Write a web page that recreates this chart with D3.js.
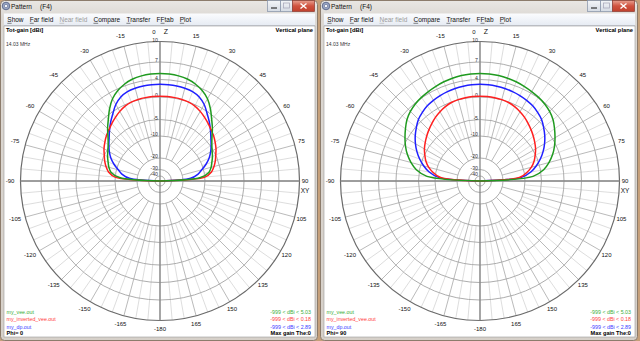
<!DOCTYPE html>
<html><head><meta charset="utf-8">
<script src="https://cdn.jsdelivr.net/npm/d3@7"></script>
<style>html,body{margin:0;padding:0;background:#c6a07a;overflow:hidden}</style>
</head><body><svg id="c" width="640" height="341" xmlns="http://www.w3.org/2000/svg"></svg>
<script>
// ---------- data ----------
const thetas = [-90,-85,-80,-75,-70,-65,-60,-55,-50,-45,-40,-35,-30,-25,-20,-15,-10,-5,0,5,10,15,20,25,30,35,40,45,50,55,60,65,70,75,80,85,90];
const dbTicks = [10,7,4,0,-5,-10,-20,-30,-40];
const dbTickLabels = ["10","7","4","0","-5","-10","-20","-30","-40"];
const angleTicks = [-165,-150,-135,-120,-105,-75,-60,-45,-30,-15,15,30,45,60,75,105,120,135,150,165];
const angleTickLabels = ["-165","-150","-135","-120","-105","-75","-60","-45","-30","-15","15","30","45","60","75","105","120","135","150","165"];
const menuItems = ["Show","Far field","Near field","Compare","Transfer","FFtab","Plot"];
const files = ["my_vee.out","my_inverted_vee.out","my_dp.out"];
const maxGains = [5.03,0.18,2.89];
const phiValues = [0,90];

// Phi = 0 plane (dBi vs theta)
const veePhi0 = [-999,-12,-8.6,-7.6,-6.9,-6.1,-5.4,-4.6,-3.6,-2.2,-0.8,0.9,2.5,3.6,4.3,4.7,4.9,5.0,5.03,5.0,4.9,4.7,4.3,3.6,2.5,0.9,-0.8,-2.2,-3.6,-4.6,-5.4,-6.1,-6.9,-7.6,-8.6,-12,-999];
const invPhi0 = [-999,-10,-7.8,-6.7,-5.8,-5.0,-4.3,-3.7,-3.1,-2.6,-2.0,-1.4,-0.8,-0.3,0.0,0.1,0.15,0.18,0.18,0.18,0.15,0.1,0.0,-0.3,-0.8,-1.4,-2.0,-2.6,-3.1,-3.7,-4.3,-5.0,-5.8,-6.7,-7.8,-10,-999];
const dpPhi0  = [-999,-16.5,-13,-10.8,-8.8,-7.2,-5.9,-4.8,-3.9,-2.8,-1.6,-0.4,1.0,2.0,2.55,2.75,2.85,2.88,2.89,2.88,2.85,2.75,2.55,2.0,1.0,-0.4,-1.6,-2.8,-3.9,-4.8,-5.9,-7.2,-8.8,-10.8,-13,-16.5,-999];
// Phi = 90 plane
const veePhi90 = [-999,-7.5,-4.3,-2.8,-1.5,-0.4,0.6,1.6,2.6,3.3,3.8,4.1,4.3,4.5,4.7,4.85,4.95,5.0,5.03,5.0,4.95,4.85,4.7,4.5,4.3,4.1,3.8,3.3,2.6,1.6,0.6,-0.4,-1.5,-2.8,-4.3,-7.5,-999];
const invPhi90 = [-999,-12.5,-9.3,-7.5,-6.2,-5.2,-4.4,-3.8,-3.2,-2.6,-2.0,-1.4,-0.9,-0.45,-0.1,0.05,0.12,0.17,0.18,0.17,0.12,0.05,-0.1,-0.45,-0.9,-1.4,-2.0,-2.6,-3.2,-3.8,-4.4,-5.2,-6.2,-7.5,-9.3,-12.5,-999];
const dpPhi90  = [-999,-11.5,-8.0,-6.0,-4.4,-3.2,-2.1,-1.1,-0.2,0.7,1.3,1.8,2.1,2.35,2.55,2.7,2.8,2.88,2.89,2.88,2.8,2.7,2.55,2.35,2.1,1.8,1.3,0.7,-0.2,-1.1,-2.1,-3.2,-4.4,-6.0,-8.0,-11.5,-999];

// ---------- styles ----------
const GREEN = "#1f9a1f", RED = "#ff1f1f", BLUE = "#1f1fff";
const LGREEN = "#3aae3a", LRED = "#ff3c3c", LBLUE = "#3c3cff";
const FONT = "Liberation Sans, Arial, sans-serif";

const svg = d3.select("#c");
const defs = svg.append("defs");
const fg = defs.append("linearGradient").attr("id","frameGrad").attr("x1",0).attr("y1",0).attr("x2",0).attr("y2",1);
fg.append("stop").attr("offset","0").attr("stop-color","#e9e7e4");
fg.append("stop").attr("offset","0.05").attr("stop-color","#dcd8d3");
fg.append("stop").attr("offset","1").attr("stop-color","#d6d0c9");
const mg = defs.append("linearGradient").attr("id","menuGrad").attr("x1",0).attr("y1",0).attr("x2",0).attr("y2",1);
mg.append("stop").attr("offset","0").attr("stop-color","#fbfcfe");
mg.append("stop").attr("offset","1").attr("stop-color","#e6ebf3");
const cg = defs.append("linearGradient").attr("id","closeGrad").attr("x1",0).attr("y1",0).attr("x2",0).attr("y2",1);
cg.append("stop").attr("offset","0").attr("stop-color","#e8a090");
cg.append("stop").attr("offset","0.5").attr("stop-color","#d0523f");
cg.append("stop").attr("offset","1").attr("stop-color","#c0402c");
const bg = defs.append("linearGradient").attr("id","btnGrad").attr("x1",0).attr("y1",0).attr("x2",0).attr("y2",1);
bg.append("stop").attr("offset","0").attr("stop-color","#f3f5f8");
bg.append("stop").attr("offset","1").attr("stop-color","#d5dbe4");

svg.append("rect").attr("width",640).attr("height",341).attr("fill","#c6a07a");

// radial scale (dBi -> px), 4nec2-style compressed scale
const rScale = d3.scaleLinear()
  .domain([-999,-40,-30,-20,-10,-5,0,4,7,10])
  .range([0,5,11.5,23,45,61.5,84,101.5,119,139.5])
  .clamp(true);

function drawWindow(ox, phi, series) {
  const g = svg.append("g").attr("transform", `translate(${ox},0)`);
  const W = 318;
  // frame
  g.append("rect").attr("x",0.5).attr("y",0.5).attr("width",W-1).attr("height",340)
    .attr("rx",4).attr("fill","url(#frameGrad)").attr("stroke","#8c7c6c").attr("stroke-width",1);
  // icon
  g.append("circle").attr("cx",6).attr("cy",6).attr("r",3.8).attr("fill","#9aa6c4").attr("stroke","#4d5a80").attr("stroke-width",0.8);
  g.append("circle").attr("cx",6).attr("cy",6).attr("r",1.6).attr("fill","#ffffff").attr("stroke","#4d5a80").attr("stroke-width",0.5);
  // title
  g.append("text").attr("x",11).attr("y",8.5).attr("font-family",FONT).attr("font-size",6.5).attr("fill","#111").text("Pattern");
  g.append("text").attr("x",40).attr("y",8.5).attr("font-family",FONT).attr("font-size",6.5).attr("fill","#111").text("(F4)");
  // caption buttons
  g.append("rect").attr("x",267.5).attr("y",0.5).attr("width",13).attr("height",11).attr("fill","url(#btnGrad)").attr("stroke","#8391a6").attr("stroke-width",0.7);
  g.append("line").attr("x1",271).attr("x2",277).attr("y1",8).attr("y2",8).attr("stroke","#333").attr("stroke-width",1.2);
  g.append("rect").attr("x",280.5).attr("y",0.5).attr("width",12).attr("height",11).attr("fill","url(#btnGrad)").attr("stroke","#8391a6").attr("stroke-width",0.7);
  g.append("rect").attr("x",283.5).attr("y",3).attr("width",6).attr("height",5).attr("fill","none").attr("stroke","#aab").attr("stroke-width",0.8);
  g.append("rect").attr("x",292.5).attr("y",0.5).attr("width",22).attr("height",11).attr("fill","url(#closeGrad)").attr("stroke","#8c3a30").attr("stroke-width",0.7);
  g.append("path").attr("d","M300.5,3.5 L306.5,8.5 M306.5,3.5 L300.5,8.5").attr("stroke","#fff").attr("stroke-width",1.4);
  // menu bar
  g.append("rect").attr("x",4).attr("y",13.5).attr("width",311).attr("height",12).attr("fill","url(#menuGrad)");
  g.append("line").attr("x1",4).attr("x2",315).attr("y1",25.5).attr("y2",25.5).attr("stroke","#b8c0cc").attr("stroke-width",0.6);
  let mx = 7.3;
  menuItems.forEach((m, i) => {
    const t = g.append("text").attr("x",mx).attr("y",22).attr("font-family",FONT).attr("font-size",6.5)
      .attr("fill", m === "Near field" ? "#9c9c9c" : "#111").text(m);
    const w = t.node().getComputedTextLength();
    // accelerator underline on first letter
    const fw = g.append("text").attr("font-family",FONT).attr("font-size",6.5).attr("x",-100).attr("y",-100).text(m[i===5?1:0]);
    const uw = fw.node().getComputedTextLength(); fw.remove();
    const ux = mx + (i===5 ? uw : 0);
    g.append("line").attr("x1",ux).attr("x2",ux+uw).attr("y1",23.3).attr("y2",23.3)
      .attr("stroke", m === "Near field" ? "#9c9c9c" : "#111").attr("stroke-width",0.5);
    mx += w + 6.2;
  });
  // client area
  g.append("rect").attr("x",4).attr("y",26).attr("width",311).attr("height",311).attr("fill","#ffffff")
    .attr("stroke","#9a9a9a").attr("stroke-width",0.6);

  const cx = 160, cy = 181;
  const pg = g.append("g").attr("transform",`translate(${cx},${cy})`);
  const R = rScale(10);

  // spokes
  const spokes = d3.range(0, 360, 5);
  pg.selectAll("line.sp").data(spokes).join("line").attr("class","sp")
    .attr("x1", a => Math.sin(a*Math.PI/180) * (a % 15 === 0 ? rScale(-20) : rScale(-10)))
    .attr("y1", a => -Math.cos(a*Math.PI/180) * (a % 15 === 0 ? rScale(-20) : rScale(-10)))
    .attr("x2", a => Math.sin(a*Math.PI/180) * R)
    .attr("y2", a => -Math.cos(a*Math.PI/180) * R)
    .attr("stroke", a => a % 15 === 0 ? "#a8a8a8" : "#d4d4d4")
    .attr("stroke-width", 0.8);
  // circles
  pg.selectAll("circle.gc").data(dbTicks.slice(1)).join("circle").attr("class","gc")
    .attr("r", d => rScale(d)).attr("fill","none").attr("stroke","#a4a4a4").attr("stroke-width",0.9);
  pg.append("circle").attr("r", R).attr("fill","none").attr("stroke","#6a6a6a").attr("stroke-width",1.2);
  // axes
  pg.append("line").attr("x1",0).attr("x2",0).attr("y1",-R).attr("y2",R).attr("stroke","#888").attr("stroke-width",1.3);
  pg.append("line").attr("x1",-R).attr("x2",R).attr("y1",0).attr("y2",0).attr("stroke","#888").attr("stroke-width",1.3);

  // dB labels
  pg.selectAll("text.db").data(dbTicks).join("text").attr("class","db")
    .attr("x",-2).attr("y", d => -rScale(d) + 0.3)
    .attr("text-anchor","end").attr("font-family",FONT).attr("font-size",5.2).attr("fill","#333")
    .text((d,i) => dbTickLabels[i]);

  // angle labels
  const LR = 149;
  pg.selectAll("text.ang").data(angleTicks).join("text").attr("class","ang")
    .attr("x", (a,i) => Math.sin(a*Math.PI/180)*LR - 2.5 + (a < 0 ? 1.5 : 0))
    .attr("y", a => -Math.cos(a*Math.PI/180)*LR - 1 + 2)
    .attr("text-anchor","middle").attr("font-family",FONT).attr("font-size",6).attr("fill","#111")
    .text((a,i) => angleTickLabels[i]);
  const lab = (x,y,t,s) => pg.append("text").attr("x",x).attr("y",y).attr("text-anchor","middle")
      .attr("font-family",FONT).attr("font-size",s||6).attr("fill","#111").text(t);
  lab(-6, -LR + 1.5, "0");
  lab(6, -LR + 1.8, "Z", 7);
  lab(0, LR - 1 + 2, "-180");
  lab(-LR - 1, 2, "-90");
  lab(LR - 4, 2, "90");
  lab(LR - 4, 11.5, "XY", 6.5);

  // pattern traces
  const line = d3.lineRadial()
    .angle((d,i) => thetas[i] * Math.PI / 180)
    .radius(d => rScale(d))
    .curve(d3.curveCatmullRom.alpha(0.5));
  [[series[2],BLUE],[series[1],RED],[series[0],GREEN]].forEach(([s,c]) => {
    pg.append("path").attr("d", line(s)).attr("fill","none").attr("stroke",c).attr("stroke-width",1.5);
  });

  // header texts
  g.append("text").attr("x",6).attr("y",32).attr("font-family",FONT).attr("font-size",5.8).attr("font-weight","bold").attr("fill","#000").text("Tot-gain [dBi]");
  g.append("text").attr("x",6).attr("y",46).attr("font-family",FONT).attr("font-size",5).attr("fill","#333").text("14.03 MHz");
  g.append("text").attr("x",313).attr("y",32).attr("text-anchor","end").attr("font-family",FONT).attr("font-size",5.8).attr("font-weight","bold").attr("fill","#000").text("Vertical plane");

  // legend
  const lcol = [LGREEN, LRED, LBLUE];
  const ly = [313.5, 321, 328.5];
  files.forEach((f,i) => {
    g.append("text").attr("x",6.5).attr("y",ly[i]).attr("font-family",FONT).attr("font-size",5.3).attr("fill",lcol[i]).text(f);
    g.append("text").attr("x",311).attr("y",ly[i]).attr("text-anchor","end").attr("font-family",FONT).attr("font-size",5.3).attr("fill",lcol[i])
      .text(`-999 < dBi < ${maxGains[i].toFixed(2)}`);
  });
  g.append("text").attr("x",6.5).attr("y",335).attr("font-family",FONT).attr("font-size",5.6).attr("font-weight","bold").attr("fill","#000").text(`Phi= ${phi}`);
  g.append("text").attr("x",311).attr("y",335).attr("text-anchor","end").attr("font-family",FONT).attr("font-size",5.6).attr("font-weight","bold").attr("fill","#000").text("Max gain The:0");
}

drawWindow(0, phiValues[0], [veePhi0, invPhi0, dpPhi0]);
drawWindow(320, phiValues[1], [veePhi90, invPhi90, dpPhi90]);
</script>
</body></html>
